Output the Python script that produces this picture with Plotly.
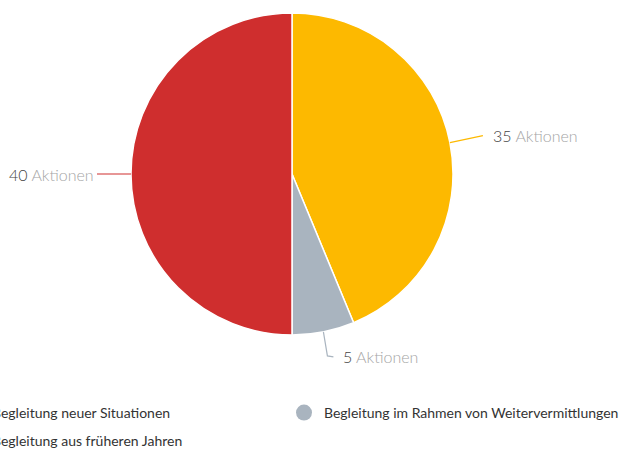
import math
import plotly.graph_objects as go

# Data
categories = [
    "Begleitung neuer Situationen",
    "Begleitung im Rahmen von Weitervermittlungen",
    "Begleitung aus früheren Jahren",
]
actions = [35, 5, 40]
colors = ["#FDB900", "#A9B4BF", "#CF2E2E"]

W, H = 620, 450
CX, CY, R = 292, 174, 161  # pie centre and radius in pixels


def px_x(x):
    return x / W


def px_y(y):
    return 1 - y / H


fig = go.Figure()

fig.add_trace(go.Pie(
    values=actions,
    labels=categories,
    sort=False,
    direction="clockwise",
    rotation=0,
    marker=dict(colors=colors, line=dict(color="white", width=1.5)),
    textinfo="none",
    hoverinfo="label+value",
    showlegend=False,
    domain=dict(x=[px_x(CX - R), px_x(CX + R)], y=[px_y(CY + R), px_y(CY - R)]),
))

# Leader lines and value labels placed at each slice's mid angle
total = sum(actions)
cum = 0
shapes = []
annotations = []
for i, v in enumerate(actions):
    mid = (cum + v / 2) / total * 2 * math.pi
    cum += v
    ex = CX + R * math.sin(mid)
    ey = CY - R * math.cos(mid)
    if math.sin(mid) > 0.5:  # right side
        pts = [(ex, ey), (ex + 33, ey - 7)]
        tx, ty, anchor = pts[-1][0] + 8, pts[-1][1], "left"
    elif math.sin(mid) < -0.5:  # left side
        pts = [(ex, ey), (ex - 34, ey)]
        tx, ty, anchor = pts[-1][0] - 1, pts[-1][1], "right"
    else:  # bottom
        pts = [(ex, ey), (ex + 4, ey + 24), (ex + 10, ey + 25)]
        tx, ty, anchor = pts[-1][0] + 8, pts[-1][1], "left"
    path = "M " + " L ".join(f"{px_x(x)},{px_y(y)}" for x, y in pts)
    shapes.append(dict(type="path", path=path, xref="paper", yref="paper",
                       line=dict(color=colors[i], width=1.2)))
    annotations.append(dict(
        x=px_x(tx), y=px_y(ty), xref="paper", yref="paper",
        xanchor=anchor, yanchor="middle", showarrow=False,
        text=f"<span style='color:#444'>{v}</span> Aktionen",
        font=dict(family="Lato", size=16, color="#a5a5a5", weight=300),
    ))

# Legend entries with round markers (one legend box per entry);
# the left column starts past the left edge of the figure
legend_pos = [("legend", -48, 413), ("legend2", 284, 413), ("legend3", -48, 441)]
for name, col, (lg, lx, ly) in zip(categories, colors, legend_pos):
    fig.add_trace(go.Scatter(
        x=[None], y=[None], mode="markers", name=name,
        marker=dict(symbol="circle", size=16, color=col),
        legend=lg,
    ))

legend_style = dict(font=dict(family="Lato", size=14, color="#333"),
                    bgcolor="rgba(0,0,0,0)", itemsizing="trace",
                    xanchor="left", yanchor="middle")
layout_legends = {}
for lg, lx, ly in legend_pos:
    layout_legends[lg] = dict(x=px_x(lx), y=px_y(ly), **legend_style)

fig.update_layout(
    width=W, height=H,
    margin=dict(l=0, r=0, t=0, b=0, autoexpand=False),
    paper_bgcolor="white", plot_bgcolor="white",
    xaxis=dict(visible=False), yaxis=dict(visible=False),
    shapes=shapes, annotations=annotations,
    **layout_legends,
)

fig.write_html("out.html")
